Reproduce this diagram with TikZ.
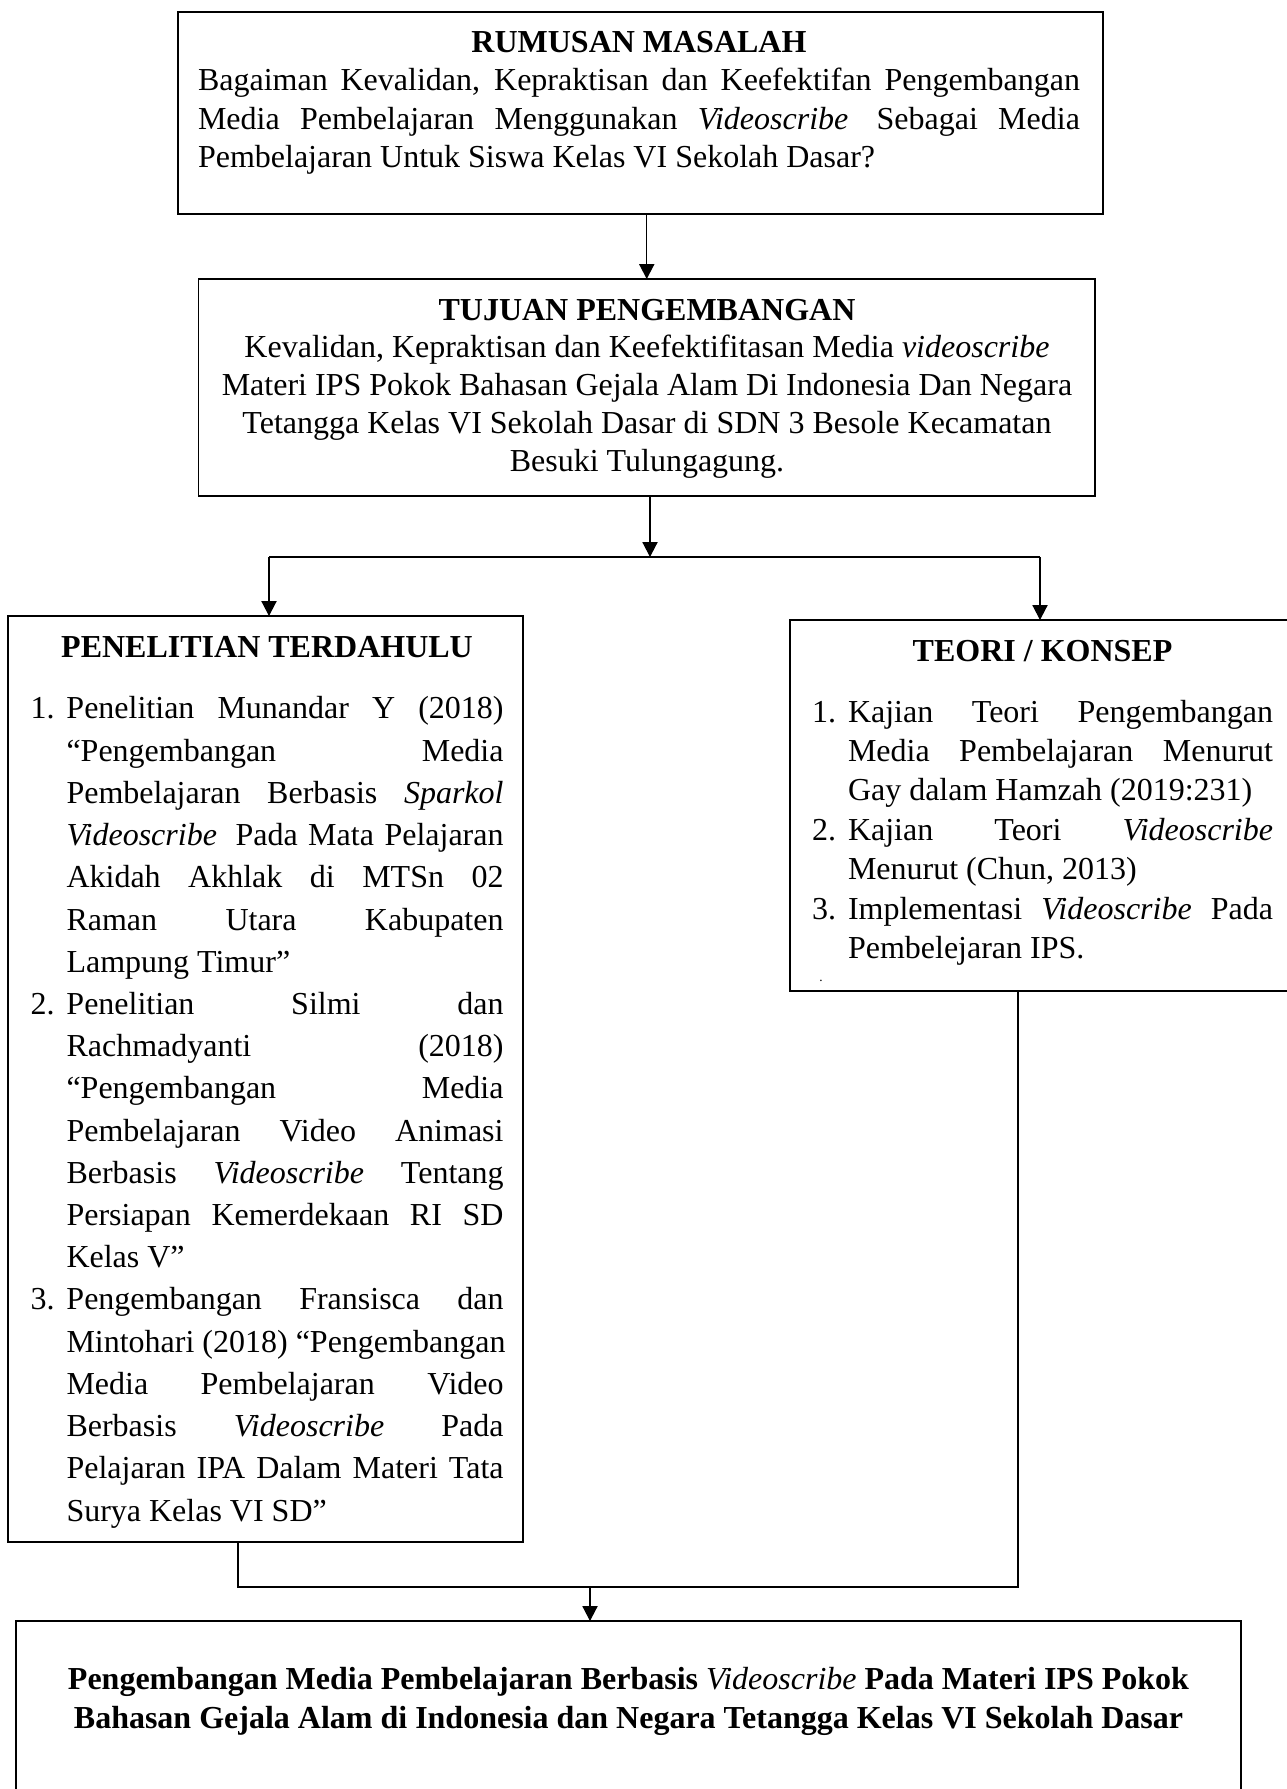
\documentclass[tikz,border=0pt]{standalone}
\usepackage{fontspec}
\setmainfont{Liberation Serif}
\usetikzlibrary{arrows.meta,fit}
\newcommand{\wordspace}{\spaceskip=0.25em\relax}
\newcommand{\fullline}[1]{\makebox[\linewidth][s]{\spaceskip=0.25em plus 1fil\relax #1}\\}
\newcommand{\numline}[2]{\makebox[13.5pt][l]{#1}\makebox[\dimexpr\linewidth-13.5pt\relax][s]{\spaceskip=0.25em plus 1fil\relax #2}\\}
\newcommand{\hangline}[1]{\hspace*{13.5pt}\makebox[\dimexpr\linewidth-13.5pt\relax][s]{\spaceskip=0.25em plus 1fil\relax #1}\\}
\newcommand{\hanglast}[1]{\hspace*{13.5pt}#1}
\begin{document}
\begin{tikzpicture}
  [x=0.375pt,y=-0.375pt,
   box/.style={rectangle,draw=black,line width=0.65pt,inner sep=0,outer sep=0},
   textblock/.style={inner sep=0,outer sep=0},
   line/.style={draw=black,line width=0.45pt},
   arrow/.style={line,-{Triangle[length=5.6pt,width=5.7pt]}}]
  \useasboundingbox (0,0) rectangle (1286,1789);
  \node[box,fit={(178,12) (1103,214)}] (rumusan) {};
  \node[box,fit={(198.5,279) (1095,496)}] (tujuan) {};
  \node[box,fit={(8,616) (523,1542)}] (penelitian) {};
  \node[box,fit={(790,620) (1300,991)}] (teori) {};
  \node[box,fit={(16,1621) (1241,1810)}] (hasil) {};
  \node[textblock,text width=330.75pt,align=left,anchor=base west,
        font=\fontsize{12}{14.35}\selectfont] (rumusantext) at (198,52.5)
    {\wordspace\makebox[\linewidth]{\textbf{RUMUSAN MASALAH}}\\
     \fullline{Bagaiman Kevalidan, Kepraktisan dan Keefektifan Pengembangan}
     \fullline{Media Pembelajaran Menggunakan \textit{Videoscribe}\hspace{0.25em} Sebagai Media}
     Pembelajaran Untuk Siswa Kelas VI Sekolah Dasar?};
  \node[textblock,text width=330pt,align=center,anchor=base,
        font=\fontsize{12}{14.2}\selectfont] (tujuantext) at (647,320)
    {\wordspace\textbf{TUJUAN PENGEMBANGAN}\\
     Kevalidan, Kepraktisan dan Keefektifitasan Media \textit{videoscribe}\\
     Materi IPS Pokok Bahasan Gejala Alam Di Indonesia Dan Negara\\
     Tetangga Kelas VI Sekolah Dasar di SDN 3 Besole Kecamatan\\
     Besuki Tulungagung.};
  \node[textblock,text width=177.4pt,align=left,anchor=base west,
        font=\fontsize{12}{15.83}\selectfont] (penelitiantext) at (30.5,657)
    {\wordspace\makebox[\linewidth]{\textbf{PENELITIAN TERDAHULU}}\\[7.4pt]
     \numline{1.}{Penelitian Munandar Y (2018)}
     \hangline{“Pengembangan Media}
     \hangline{Pembelajaran Berbasis \textit{Sparkol}}
     \hangline{\textit{Videoscribe}\hspace{0.25em} Pada Mata Pelajaran}
     \hangline{Akidah Akhlak di MTSn 02}
     \hangline{Raman Utara Kabupaten}
     \hanglast{Lampung Timur”}\\
     \numline{2.}{Penelitian Silmi dan}
     \hangline{Rachmadyanti (2018)}
     \hangline{“Pengembangan Media}
     \hangline{Pembelajaran Video Animasi}
     \hangline{Berbasis \textit{Videoscribe} Tentang}
     \hangline{Persiapan Kemerdekaan RI SD}
     \hanglast{Kelas V”}\\
     \numline{3.}{Pengembangan Fransisca dan}
     \hangline{Mintohari (2018) “Pengembangan}
     \hangline{Media Pembelajaran Video}
     \hangline{Berbasis \textit{Videoscribe} Pada}
     \hangline{Pelajaran IPA Dalam Materi Tata}
     \hanglast{Surya Kelas VI SD”}};
  \node[textblock,text width=172.9pt,align=left,anchor=base west,
        font=\fontsize{12}{14.78}\selectfont] (teoritext) at (812,661)
    {\wordspace\makebox[\linewidth]{\textbf{TEORI / KONSEP}}\\[8.1pt]
     \numline{1.}{Kajian Teori Pengembangan}
     \hangline{Media Pembelajaran Menurut}
     \hanglast{Gay dalam Hamzah (2019:231)}\\
     \numline{2.}{Kajian Teori \textit{Videoscribe}}
     \hanglast{Menurut (Chun, 2013)}\\
     \numline{3.}{Implementasi \textit{Videoscribe} Pada}
     \hanglast{Pembelejaran IPS.}};
  \node[textblock,anchor=base,font=\tiny] (teoridot) at (821,981) {.};
  \node[textblock,text width=442.5pt,align=center,anchor=base,
        font=\fontsize{12}{14.63}\selectfont\bfseries] (hasiltext) at (628.5,1689)
    {\wordspace Pengembangan Media Pembelajaran Berbasis {\mdseries\itshape Videoscribe} Pada Materi IPS Pokok\\
     Bahasan Gejala Alam di Indonesia dan Negara Tetangga Kelas VI Sekolah Dasar};
  \coordinate (split) at (650,557);
  \coordinate (splitleft) at (269,557);
  \coordinate (splitright) at (1040,557);
  \coordinate (joinleft) at (238,1587);
  \coordinate (joinright) at (1018,1587);
  \coordinate (join) at (590,1587);
  \draw[arrow] (tujuan.north |- rumusan.south) to (tujuan.north);
  \draw[arrow] (tujuan.south -| split) to (split);
  \draw[line] (splitleft) -- (splitright);
  \draw[arrow] (splitleft) to (splitleft |- penelitian.north);
  \draw[arrow] (splitright) to (splitright |- teori.north);
  \draw[line] (penelitian.south -| joinleft) -- (joinleft) -- (joinright)
    -- (teori.south -| joinright);
  \draw[arrow] (join) to (join |- hasil.north);
\end{tikzpicture}
\end{document}
